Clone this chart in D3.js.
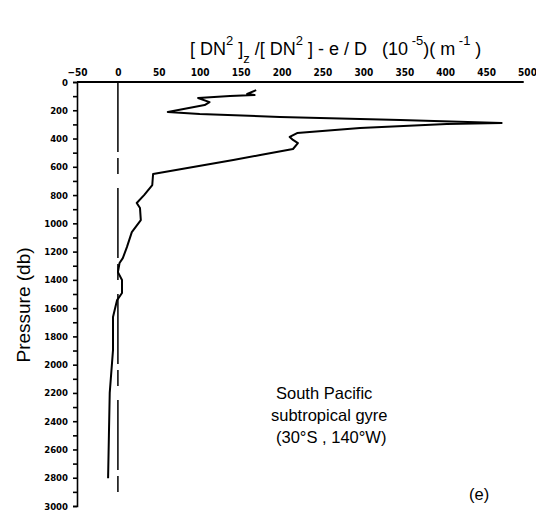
<!DOCTYPE html>
<html>
<head>
<meta charset="utf-8">
<script src="https://cdn.jsdelivr.net/npm/d3@7"></script>
<style>
  html, body { margin: 0; padding: 0; background: #fff; }
  svg { display: block; }
</style>
</head>
<body>
<svg id="chart" width="536" height="512"></svg>
<script>
// Profile of [DN²]z/[DN²] - e/D (10^-5 m^-1) against pressure (db)
const pressure = [57, 85, 92, 99, 113, 142, 163, 212, 226, 248, 269, 290, 297, 326, 361, 389,
  410, 432, 474, 517, 552, 651, 729, 800, 856, 892, 977, 1062, 1168, 1246, 1281, 1345, 1401,
  1493, 1543, 1663, 1897, 2200, 2500, 2803];
const ratio = [169, 158, 167, 137, 98, 112, 106, 61, 100, 198, 345, 469, 402, 296, 219, 210,
  214, 220, 214, 174, 141, 43, 42, 32, 23, 27, 28, 17, 11, 6, 2, 0, 5,
  5, -1, -6, -6, -10, -11, -12];

const xTicks = [-50, 0, 50, 100, 150, 200, 250, 300, 350, 400, 450, 500];
const yTicks = d3.range(0, 3001, 100);

const svg = d3.select("#chart");
const x = d3.scaleLinear().domain([-50, 500]).range([77, 527]);
const y = d3.scaleLinear().domain([0, 3000]).range([82, 506]);

const tickFont = "'Liberation Sans Narrow', 'DejaVu Sans Condensed', 'Liberation Sans', sans-serif";
const textFont = "'Liberation Sans', Arial, Helvetica, sans-serif";

// top value axis (labels only, line drawn separately)
const xAxis = svg.append("g")
  .attr("transform", `translate(0,${y(0)})`)
  .call(d3.axisTop(x).tickValues(xTicks).tickSize(0).tickPadding(6).tickFormat(d3.format("d")));
xAxis.select(".domain").remove();
xAxis.selectAll("text")
  .attr("font-family", tickFont).attr("font-weight", "bold").attr("font-size", 10).attr("fill", "#000");

svg.append("line")
  .attr("x1", x(-50)).attr("x2", x(496)).attr("y1", y(0)).attr("y2", y(0))
  .attr("stroke", "#000").attr("stroke-width", 2);

// left pressure axis
const yAxis = svg.append("g")
  .attr("transform", `translate(${x(-50)},0)`)
  .call(d3.axisLeft(y).tickValues(yTicks).tickSize(4).tickPadding(5)
    .tickFormat(d => (d % 200 === 0 ? d3.format("d")(d) : "")));
yAxis.select(".domain").attr("stroke", "#000").attr("stroke-width", 1.6);
yAxis.selectAll(".tick line").attr("stroke", "#000").attr("stroke-width", 1.6);
yAxis.selectAll("text")
  .attr("font-family", tickFont).attr("font-weight", "bold").attr("font-size", 9.5).attr("fill", "#000");

// zero reference line
svg.append("line")
  .attr("x1", x(0)).attr("x2", x(0)).attr("y1", y(0)).attr("y2", y(3000))
  .attr("stroke", "#000").attr("stroke-width", 1.5)
  .attr("stroke-dasharray", "70 6 16 14");

// profile curve
const line = d3.line()
  .x((d, i) => x(ratio[i]))
  .y((d, i) => y(pressure[i]))
  .curve(d3.curveLinear);
svg.append("path")
  .datum(pressure)
  .attr("d", line)
  .attr("fill", "none")
  .attr("stroke", "#000")
  .attr("stroke-width", 2)
  .attr("stroke-linejoin", "round");

// title with super/subscripts: shift 0 = baseline, -1 = superscript, 1 = subscript
const title = svg.append("text")
  .attr("x", 190).attr("y", 55)
  .style("white-space", "pre")
  .attr("xml:space", "preserve")
  .attr("font-family", textFont).attr("font-size", 18).attr("fill", "#000");
const parts = [
  ["[ DN", 0], ["2", -1], [" ]", 0], ["z", 1], [" /[ DN", 0], ["2", -1], [" ] - e / D   (10", 0],
  [" -5", -1], [")( m", 0], [" -1", -1], [" )", 0]
];
const offset = s => (s === -1 ? -10 : s === 1 ? 8 : 0);
let prevShift = 0;
parts.forEach(([t, s]) => {
  const ts = title.append("tspan").text(t);
  if (s !== 0) ts.attr("font-size", 13);
  const dy = offset(s) - offset(prevShift);
  if (dy !== 0) ts.attr("dy", dy);
  prevShift = s;
});

// y axis title
svg.append("text")
  .attr("transform", "translate(30,305) rotate(-90)")
  .attr("text-anchor", "middle")
  .attr("font-family", textFont).attr("font-size", 19).attr("fill", "#000")
  .text("Pressure (db)");

// annotation
const note = ["South Pacific", "subtropical gyre", "(30°S , 140°W)"];
const noteX = [276, 271, 276];
svg.selectAll("text.note").data(note).enter().append("text")
  .attr("class", "note")
  .attr("x", (d, i) => noteX[i])
  .attr("y", (d, i) => 399 + i * 22)
  .attr("font-family", textFont).attr("font-size", 16.5).attr("fill", "#000")
  .text(d => d);

svg.append("text")
  .attr("x", 469).attr("y", 500)
  .attr("font-family", textFont).attr("font-size", 16.5).attr("fill", "#000")
  .text("(e)");
</script>
</body>
</html>
